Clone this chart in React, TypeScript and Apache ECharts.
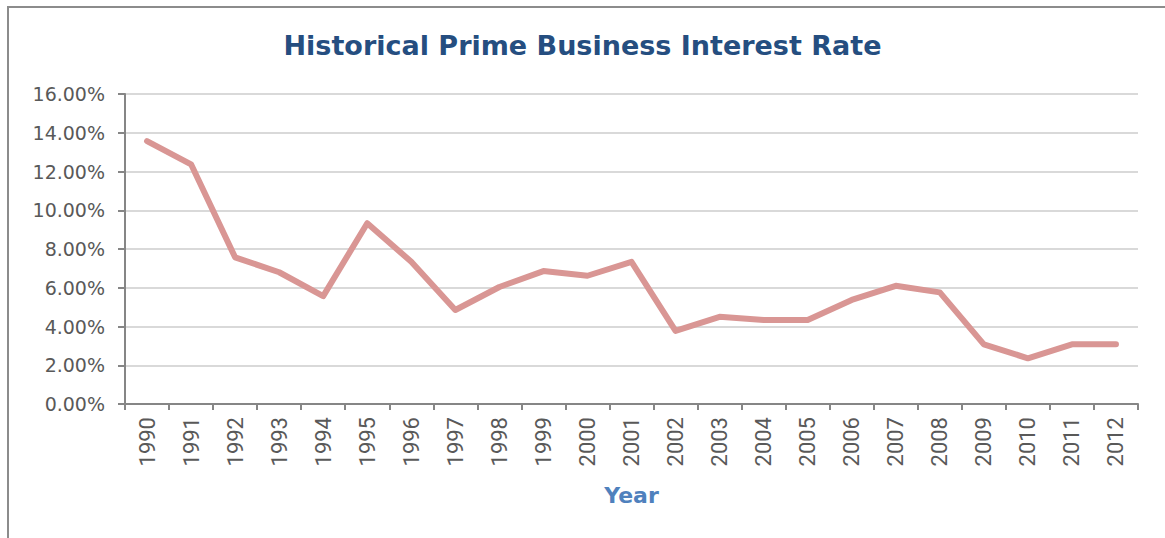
import React, { useEffect, useRef } from "react";
import * as echarts from "echarts";

const years = ["1990","1991","1992","1993","1994","1995","1996","1997","1998","1999","2000","2001","2002","2003","2004","2005","2006","2007","2008","2009","2010","2011","2012"];
const rates = [13.57, 12.37, 7.57, 6.8, 5.57, 9.33, 7.34, 4.85, 6.04, 6.86, 6.62, 7.34, 3.77, 4.5, 4.34, 4.34, 5.37, 6.1, 5.76, 3.08, 2.36, 3.08, 3.08];
const yTicks = { min: 0, max: 16, interval: 2 };

export default function App() {
  const ref = useRef<HTMLDivElement>(null);
  useEffect(() => {
    if (!ref.current) return;
    const chart = echarts.init(ref.current, null, { renderer: "svg" });
    chart.setOption({
      animation: false,
      backgroundColor: "#ffffff",
      title: {
        text: "Historical Prime Business Interest Rate",
        left: "center",
        top: 27,
        textStyle: { color: "#254E80", fontSize: 27, fontWeight: "bold", fontFamily: "DejaVu Sans" },
      },
      graphic: [
        { type: "rect", shape: { x: 8, y: 7, width: 1300, height: 700 }, style: { fill: "none", stroke: "#8c8c8c", lineWidth: 2 }, silent: true },
      ],
      grid: { left: 125, right: 27, top: 94, bottom: 134 },
      xAxis: {
        type: "category",
        data: years,
        boundaryGap: true,
        name: "Year",
        nameLocation: "middle",
        nameGap: 80,
        nameTextStyle: { color: "#4F81BD", fontSize: 22, fontWeight: "bold", fontFamily: "DejaVu Sans" },
        axisLine: { lineStyle: { color: "#868686", width: 2 } },
        axisTick: { show: true, interval: 0, length: 6, lineStyle: { color: "#868686", width: 2 } },
        axisLabel: { rotate: 90, interval: 0, margin: 13, color: "#595959", fontSize: 22, fontFamily: "Roboto" },
        splitLine: { show: false },
      },
      yAxis: {
        type: "value",
        min: yTicks.min,
        max: yTicks.max,
        interval: yTicks.interval,
        axisLine: { show: true, lineStyle: { color: "#868686", width: 2 } },
        axisTick: { show: true, length: 7, lineStyle: { color: "#868686", width: 2 } },
        axisLabel: { margin: 20, color: "#595959", fontSize: 19, fontFamily: "DejaVu Sans", formatter: (v: number) => v.toFixed(2) + "%" },
        splitLine: { show: true, lineStyle: { color: "#d9d9d9", width: 2 } },
      },
      series: [
        {
          type: "line",
          data: rates,
          symbol: "none",
          lineStyle: { color: "#D99694", width: 6, cap: "round", join: "round" },
        },
      ],
    });
    return () => chart.dispose();
  }, []);
  return <div ref={ref} style={{ position: "absolute", left: 0, top: 0, width: 1165, height: 538 }} />;
}
